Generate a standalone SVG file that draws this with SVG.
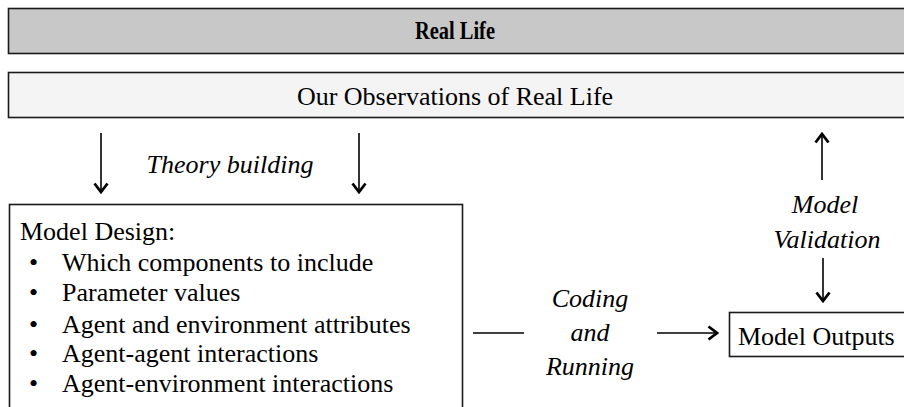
<svg xmlns="http://www.w3.org/2000/svg" width="904" height="407" viewBox="0 0 904 407">
<style>
.box{stroke:#1a1a1a;stroke-width:1.6}
.t{font-family:"Liberation Serif","Times New Roman",serif;font-size:26px;fill:#000}
.i{font-style:italic;text-anchor:middle}
.c{text-anchor:middle}
.ln{stroke:#000;stroke-width:1.6;fill:none}
</style>
<defs>
<marker id="ah" viewBox="0 0 12 16" refX="10" refY="8" markerWidth="12" markerHeight="16" markerUnits="userSpaceOnUse" orient="auto">
<path d="M1.5,1.5 L10,8 L1.5,14.5" fill="none" stroke="#000" stroke-width="2.8"/>
</marker>
</defs>
<g id="real-life">
<rect class="box" x="8.5" y="8.5" width="905" height="45" fill="#c8c8c8"/>
<text class="t c" x="455" y="39" font-weight="bold" textLength="80" lengthAdjust="spacingAndGlyphs">Real Life</text>
</g>
<g id="observations">
<rect class="box" x="8.5" y="72.5" width="905" height="45" fill="#f4f4f4"/>
<text class="t c" x="455" y="105">Our Observations of Real Life</text>
</g>
<g id="model-design">
<rect class="box" x="9.5" y="204.5" width="453" height="215" fill="#fff"/>
<text class="t" x="20" y="240">Model Design:</text>
<text class="t" x="29" y="271">•</text><text class="t" x="62" y="271">Which components to include</text>
<text class="t" x="29" y="301">•</text><text class="t" x="62" y="301">Parameter values</text>
<text class="t" x="29" y="333">•</text><text class="t" x="62" y="333">Agent and environment attributes</text>
<text class="t" x="29" y="362">•</text><text class="t" x="62" y="362">Agent-agent interactions</text>
<text class="t" x="29" y="392">•</text><text class="t" x="62" y="392">Agent-environment interactions</text>
</g>
<g id="model-outputs">
<rect class="box" x="729.5" y="312.5" width="190" height="44" fill="#fff"/>
<text class="t" x="738" y="345">Model Outputs</text>
</g>
<g id="connectors">
<line class="ln" x1="101" y1="133" x2="101" y2="192" marker-end="url(#ah)"/>
<line class="ln" x1="359" y1="133" x2="359" y2="192" marker-end="url(#ah)"/>
<text class="t i" x="230" y="173">Theory building</text>
<line class="ln" x1="822" y1="180" x2="822" y2="134" marker-end="url(#ah)"/>
<line class="ln" x1="823" y1="258" x2="823" y2="301" marker-end="url(#ah)"/>
<text class="t i" x="825" y="213">Model</text>
<text class="t i" x="827" y="248">Validation</text>
<line class="ln" x1="473" y1="333" x2="524" y2="333"/>
<line class="ln" x1="657" y1="333" x2="717" y2="333" marker-end="url(#ah)"/>
<text class="t i" x="590" y="307">Coding</text>
<text class="t i" x="590" y="341">and</text>
<text class="t i" x="590" y="375">Running</text>
</g>
</svg>
